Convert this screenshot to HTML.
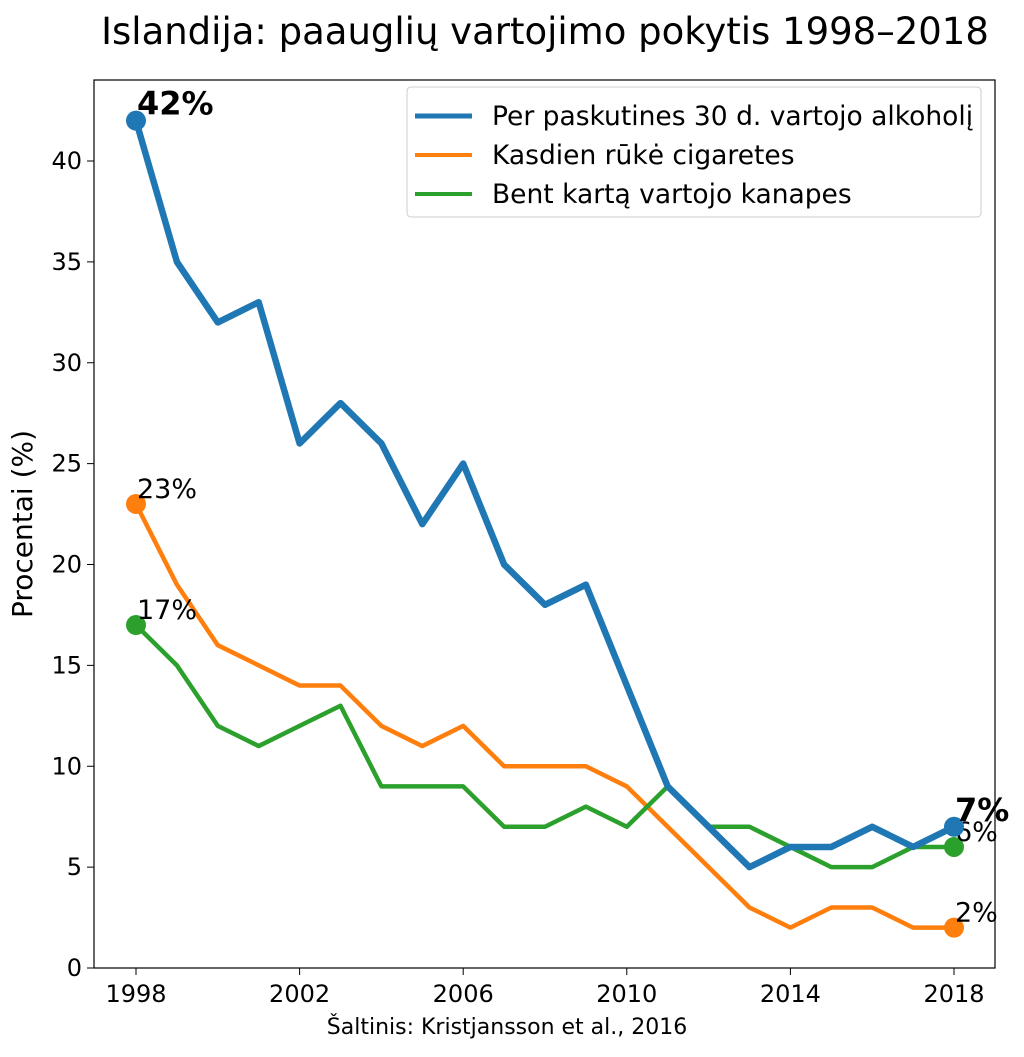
<!DOCTYPE html>
<html><head><meta charset="utf-8"><style>
html,body{margin:0;padding:0;background:#fff;}
svg text{font-family:"DejaVu Sans","Liberation Sans",sans-serif;}
</style></head><body>
<svg id="chart" width="1024" height="1052" viewBox="0 0 1024 1052">
<text x="545" y="44" font-size="37" text-anchor="middle" fill="#000">Islandija: paauglių vartojimo pokytis 1998–2018</text>
<g id="grid"></g>
<g id="series"></g>
<rect x="94" y="80" width="901" height="888" fill="none" stroke="#000" stroke-width="1.2"/>
<text transform="translate(32,524) rotate(-90)" font-size="28" text-anchor="middle">Procentai (%)</text>
<text x="507" y="1034" font-size="22" text-anchor="middle">Šaltinis: Kristjansson et al., 2016</text>
<g>
<rect x="407" y="87" width="574" height="130" rx="4" fill="#fff" stroke="#ccc"/>
<line x1="415" y1="116" x2="472" y2="116" stroke="#1f77b4" stroke-width="5"/>
<text x="492" y="125" font-size="26.5">Per paskutines 30 d. vartojo alkoholį</text>
<line x1="415" y1="155" x2="472" y2="155" stroke="#ff7f0e" stroke-width="4"/>
<text x="492" y="164" font-size="26.5">Kasdien rūkė cigaretes</text>
<line x1="415" y1="194" x2="472" y2="194" stroke="#2ca02c" stroke-width="4"/>
<text x="492" y="203" font-size="26.5">Bent kartą vartojo kanapes</text>
</g>
</svg>
<script>
const years=[1998,1999,2000,2001,2002,2003,2004,2005,2006,2007,2008,2009,2010,2011,2012,2013,2014,2015,2016,2017,2018];
const alcohol=[42,35,32,33,26,28,26,22,25,20,18,19,14,9,7,5,6,6,7,6,7];
const cigarettes=[23,19,16,15,14,14,12,11,12,10,10,10,9,7,5,3,2,3,3,2,2];
const cannabis=[17,15,12,11,12,13,9,9,9,7,7,8,7,9,7,7,6,5,5,6,6];
const xTicks=[1998,2002,2006,2010,2014,2018];
const yTicks=[0,5,10,15,20,25,30,35,40];
const NS="http://www.w3.org/2000/svg";
function xs(v){return 136+(v-1998)*(954-136)/20;}
function ys(v){return 968-v*(968-161)/40;}
function mk(t,a,p){const e=document.createElementNS(NS,t);for(const k in a)e.setAttribute(k,a[k]);p.appendChild(e);return e;}
const g=document.getElementById('grid');
xTicks.forEach(t=>{
  const l=mk('line',{x1:xs(t),x2:xs(t),y1:968,y2:975,stroke:'#000'},g);
  
  
  const tx=mk('text',{x:xs(t),y:1002,'font-size':24,'text-anchor':'middle'},g);tx.textContent=t;
  
  
});
yTicks.forEach(t=>{
  const l=mk('line',{x1:87,x2:94,y1:ys(t),y2:ys(t),stroke:'#000'},g);
  
  
  const tx=mk('text',{x:82,y:ys(t)+8,'font-size':24,'text-anchor':'end'},g);tx.textContent=t;
  
  
});
const s=document.getElementById('series');
const defs=[
 {d:cigarettes,c:'#ff7f0e',w:4.5,n:'cigarettes',b:false},
 {d:cannabis,c:'#2ca02c',w:4.5,n:'cannabis',b:false},
 {d:alcohol,c:'#1f77b4',w:6.5,n:'alcohol',b:true}];
defs.forEach(o=>{
  const p=mk('polyline',{points:years.map((y,i)=>xs(y)+','+ys(o.d[i])).join(' '),fill:'none',stroke:o.c,'stroke-width':o.w,'stroke-linejoin':'round'},s);
  
  
  [0,years.length-1].forEach(i=>{
    const c=mk('circle',{cx:xs(years[i]),cy:ys(o.d[i]),r:10,fill:o.c},s);
    
    
    const t=mk('text',{x:xs(years[i])+1,y:ys(o.d[i])-6,'font-size':o.b?32:27,'font-weight':o.b?'bold':'normal'},s);
    t.textContent=o.d[i]+'%';
    
    
  });
});
</script>
</body></html>
